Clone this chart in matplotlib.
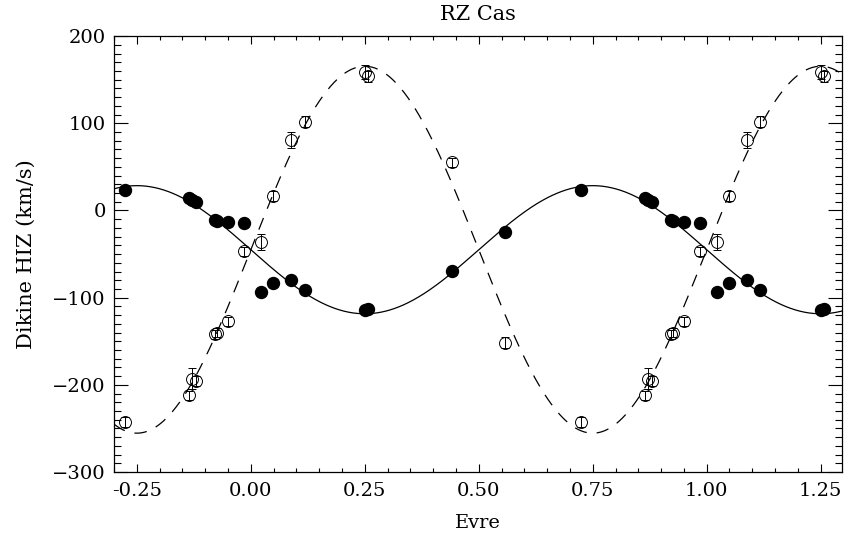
import numpy as np
import matplotlib
matplotlib.use('Agg')
import matplotlib.pyplot as plt
from matplotlib.ticker import MultipleLocator, FormatStrFormatter

# Gozlem verileri (evre 0-1 arasinda)
evre = [0.022, 0.048, 0.088, 0.118, 0.251, 0.258, 0.441, 0.558, 0.724,
        0.864, 0.872, 0.880, 0.922, 0.926, 0.951, 0.986]
v_birincil = [-93.6, -82.9, -79.4, -90.9, -113.8, -112.6, -69.5, -24.4, 23.7,
              14.5, 12.3, 10.3, -10.5, -12.0, -13.4, -14.5]
v_ikincil = [-36.3, 16.4, 81.0, 102.0, 159.0, 154.0, 55.3, -151.5, -242.5,
             -212.0, -193.0, -195.5, -142.0, -140.0, -127.0, -47.0]
hata_ikincil = [9, 6, 9, 6, 8, 6, 5, 6, 6, 5, 12, 6, 5, 5, 5, 5]

# Yorunge cozumu
gamma = -45.0
K1 = 73.5
K2 = 210.5

plt.rcParams['font.family'] = ['DejaVu Serif']

fig = plt.figure(figsize=(8.45, 5.4), dpi=100)
ax = fig.add_axes([0.135, 0.126, 0.861, 0.807])

# Model egrileri
faz = np.linspace(-0.3, 1.3, 800)
ax.plot(faz, gamma - K1 * np.sin(2 * np.pi * faz), color='black', lw=0.9)
ax.plot(faz, gamma + K2 * np.sin(2 * np.pi * faz), color='black', lw=0.9,
        dashes=(10, 8))

# Veri noktalari, evre -1, 0, +1 kaydirilarak
e = np.array(evre)
for kay in (-1, 0, 1):
    ax.plot(e + kay, v_birincil, 'o', color='black', ms=8.6, zorder=3)
    ax.errorbar(e + kay, v_ikincil, yerr=hata_ikincil, fmt='o', mfc='none',
                mec='black', ms=8.6, mew=0.7, ecolor='black', elinewidth=0.7,
                capsize=3, capthick=0.7, zorder=3)

ax.set_xlim(-0.3, 1.296)
ax.set_ylim(-300, 200)

ax.xaxis.set_major_locator(MultipleLocator(0.25))
ax.xaxis.set_minor_locator(MultipleLocator(0.05))
ax.xaxis.set_major_formatter(FormatStrFormatter('%.2f'))
ax.yaxis.set_major_locator(MultipleLocator(100))
ax.yaxis.set_minor_locator(MultipleLocator(10))

ax.tick_params(axis='both', which='both', direction='in', top=True, right=True,
               width=0.8, labelsize=14)
ax.tick_params(axis='x', which='major', length=5.8, pad=7)
ax.tick_params(axis='x', which='minor', length=2.9)
ax.tick_params(axis='y', which='major', length=10, pad=6)
ax.tick_params(axis='y', which='minor', length=5)
for s in ax.spines.values():
    s.set_linewidth(0.9)

ax.set_title('RZ Cas', fontsize=15, pad=12)
ax.set_xlabel('Evre', fontsize=14, labelpad=10)
ax.set_ylabel('Dikine HIZ (km/s)', fontsize=15, labelpad=12)

fig.savefig('out.png', dpi=100)
